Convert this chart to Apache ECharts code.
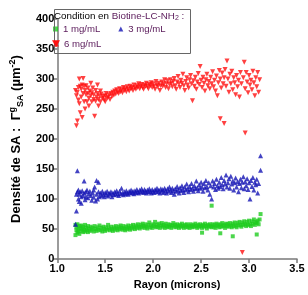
<!DOCTYPE html>
<html>
<head>
<meta charset="utf-8">
<script src="https://cdn.jsdelivr.net/npm/echarts@6/dist/echarts.min.js"></script>
<style>
html, body { margin: 0; padding: 0; background: #fff; }
#chart { width: 308px; height: 295px; }
</style>
</head>
<body>
<div id="chart"></div>
<script>
// valeurs (Rayon en microns, densité en µm-2)
var xTicks = [1.0, 1.5, 2.0, 2.5, 3.0, 3.5];
var yTicks = [0, 50, 100, 150, 200, 250, 300, 350, 400];
var seriesNames = ['1 mg/mL', '3 mg/mL', '6 mg/mL'];

var data1 = [[1.19,40],[1.19,57],[1.20,48],[1.20,53],[1.21,44],[1.21,58],[1.22,50],[1.22,46],[1.23,55],[1.23,42],[1.24,52],[1.25,47],[1.25,56],[1.26,50],[1.27,45],[1.27,54],[1.28,49],[1.29,57],[1.29,46],[1.30,52],[1.31,48],[1.32,55],[1.32,45],[1.33,51],[1.34,47],[1.35,54],[1.36,49],[1.37,52],[1.38,46],[1.39,55],[1.40,50],[1.41,47],[1.42,53],[1.43,49],[1.44,56],[1.45,48],[1.46,52],[1.47,46],[1.48,54],[1.49,50],[1.50,47],[1.51,53],[1.52,49],[1.53,57],[1.54,51],[1.55,48],[1.56,54],[1.57,50],[1.58,47],[1.59,53],[1.60,49],[1.61,55],[1.62,51],[1.63,48],[1.64,54],[1.65,50],[1.66,56],[1.67,52],[1.68,49],[1.69,55],[1.70,51],[1.71,48],[1.72,54],[1.73,50],[1.74,56],[1.75,52],[1.76,49],[1.77,55],[1.78,51],[1.79,57],[1.80,53],[1.81,50],[1.82,56],[1.83,52],[1.84,58],[1.85,54],[1.86,51],[1.87,57],[1.88,53],[1.89,59],[1.90,55],[1.91,52],[1.92,58],[1.93,54],[1.94,51],[1.95,57],[1.96,61],[1.97,53],[1.98,56],[1.99,52],[2.00,58],[2.01,55],[2.02,62],[2.03,53],[2.04,57],[2.05,54],[2.06,59],[2.07,52],[2.08,56],[2.09,60],[2.10,54],[2.11,57],[2.12,52],[2.13,59],[2.14,55],[2.15,53],[2.16,58],[2.17,54],[2.18,57],[2.19,52],[2.20,56],[2.21,60],[2.22,54],[2.23,57],[2.24,53],[2.25,58],[2.26,55],[2.27,52],[2.28,57],[2.29,54],[2.30,59],[2.31,55],[2.32,52],[2.33,57],[2.34,54],[2.35,58],[2.36,53],[2.37,56],[2.38,52],[2.39,58],[2.40,55],[2.41,53],[2.42,57],[2.43,54],[2.44,59],[2.45,55],[2.46,52],[2.47,57],[2.48,54],[2.49,58],[2.50,55],[2.51,44],[2.51,52],[2.52,57],[2.53,54],[2.54,59],[2.55,55],[2.56,51],[2.57,57],[2.58,54],[2.59,58],[2.60,55],[2.61,89],[2.61,53],[2.62,58],[2.63,54],[2.64,57],[2.65,52],[2.66,59],[2.67,55],[2.68,57],[2.69,53],[2.70,43],[2.70,58],[2.71,54],[2.72,60],[2.73,55],[2.74,57],[2.75,52],[2.76,59],[2.77,55],[2.78,58],[2.79,54],[2.80,60],[2.81,56],[2.82,53],[2.83,38],[2.83,59],[2.84,55],[2.85,61],[2.86,56],[2.87,53],[2.88,60],[2.89,56],[2.90,62],[2.91,57],[2.92,54],[2.93,61],[2.94,57],[2.95,63],[2.96,58],[2.97,55],[2.98,62],[2.99,57],[3.00,64],[3.01,58],[3.02,55],[3.03,63],[3.04,59],[3.05,66],[3.06,57],[3.07,62],[3.08,41],[3.08,60],[3.09,64],[3.10,58],[3.11,66],[3.12,75]];

var data3 = [[1.19,58],[1.20,80],[1.20,108],[1.21,147],[1.21,112],[1.22,100],[1.22,115],[1.23,96],[1.23,108],[1.24,112],[1.25,104],[1.25,93],[1.26,114],[1.27,106],[1.28,130],[1.28,110],[1.29,99],[1.30,112],[1.30,104],[1.31,115],[1.32,102],[1.33,109],[1.34,113],[1.35,106],[1.36,98],[1.37,110],[1.38,115],[1.38,103],[1.39,120],[1.40,97],[1.41,131],[1.41,108],[1.42,100],[1.43,128],[1.43,112],[1.44,104],[1.45,110],[1.46,106],[1.47,113],[1.48,108],[1.49,104],[1.50,111],[1.51,107],[1.52,113],[1.53,105],[1.54,110],[1.55,108],[1.56,112],[1.57,104],[1.58,110],[1.59,107],[1.60,112],[1.61,108],[1.62,114],[1.63,109],[1.64,106],[1.65,113],[1.66,109],[1.67,118],[1.68,110],[1.69,107],[1.70,112],[1.71,109],[1.72,114],[1.73,110],[1.74,108],[1.75,113],[1.76,111],[1.77,115],[1.78,110],[1.79,113],[1.80,109],[1.81,114],[1.82,111],[1.83,116],[1.84,112],[1.85,110],[1.86,115],[1.87,112],[1.88,117],[1.89,113],[1.90,111],[1.91,116],[1.92,113],[1.93,110],[1.94,115],[1.95,112],[1.96,117],[1.97,113],[1.98,110],[1.99,116],[2.00,113],[2.01,111],[2.02,116],[2.03,113],[2.04,118],[2.05,112],[2.06,115],[2.07,110],[2.08,117],[2.09,113],[2.10,116],[2.11,111],[2.12,118],[2.13,114],[2.14,110],[2.15,117],[2.16,113],[2.17,120],[2.18,115],[2.19,111],[2.20,118],[2.21,114],[2.22,108],[2.23,117],[2.24,113],[2.25,121],[2.26,115],[2.27,110],[2.28,119],[2.29,114],[2.30,122],[2.31,116],[2.32,111],[2.33,120],[2.34,115],[2.35,125],[2.36,117],[2.37,112],[2.38,121],[2.39,116],[2.40,126],[2.41,118],[2.42,113],[2.43,122],[2.44,117],[2.45,130],[2.46,119],[2.47,114],[2.48,124],[2.49,118],[2.50,128],[2.51,120],[2.52,113],[2.53,126],[2.54,119],[2.55,131],[2.56,121],[2.57,115],[2.58,127],[2.59,108],[2.60,122],[2.61,100],[2.62,130],[2.63,120],[2.64,126],[2.65,116],[2.66,133],[2.67,122],[2.68,118],[2.69,128],[2.70,121],[2.71,136],[2.72,124],[2.73,117],[2.74,131],[2.75,125],[2.76,140],[2.77,120],[2.78,127],[2.79,134],[2.80,118],[2.81,138],[2.82,125],[2.83,130],[2.84,115],[2.85,127],[2.86,135],[2.87,120],[2.88,129],[2.89,112],[2.90,126],[2.91,133],[2.92,119],[2.93,128],[2.94,137],[2.95,117],[2.96,129],[2.97,122],[2.98,134],[2.99,116],[3.00,127],[3.01,100],[3.02,131],[3.03,121],[3.04,136],[3.05,115],[3.06,128],[3.07,124],[3.08,133],[3.09,110],[3.10,126],[3.12,148],[3.12,172]];

var data6 = [[1.19,281],[1.20,272],[1.20,222],[1.21,230],[1.21,278],[1.22,286],[1.22,265],[1.23,300],[1.23,259],[1.24,288],[1.24,244],[1.25,270],[1.25,283],[1.26,236],[1.26,290],[1.27,301],[1.27,276],[1.28,262],[1.28,288],[1.29,250],[1.29,281],[1.30,274],[1.30,289],[1.31,262],[1.32,276],[1.32,285],[1.33,255],[1.33,268],[1.34,280],[1.35,293],[1.35,272],[1.36,262],[1.36,277],[1.37,285],[1.38,266],[1.38,274],[1.39,238],[1.40,281],[1.40,263],[1.41,270],[1.42,290],[1.42,276],[1.43,266],[1.43,255],[1.44,272],[1.45,262],[1.45,280],[1.46,275],[1.47,268],[1.48,271],[1.49,265],[1.50,272],[1.50,262],[1.51,276],[1.52,268],[1.53,270],[1.54,274],[1.55,266],[1.56,276],[1.57,271],[1.58,278],[1.59,273],[1.60,280],[1.61,275],[1.62,282],[1.63,278],[1.64,276],[1.65,284],[1.66,279],[1.67,282],[1.68,277],[1.69,286],[1.70,281],[1.71,284],[1.72,279],[1.73,287],[1.74,283],[1.75,280],[1.76,288],[1.77,284],[1.78,286],[1.79,281],[1.80,290],[1.81,285],[1.82,283],[1.83,289],[1.84,286],[1.85,292],[1.86,284],[1.87,288],[1.88,291],[1.89,286],[1.90,283],[1.91,290],[1.92,288],[1.93,293],[1.94,287],[1.95,284],[1.96,291],[1.97,289],[1.98,294],[1.99,286],[2.00,292],[2.01,288],[2.02,283],[2.03,296],[2.04,290],[2.05,287],[2.06,293],[2.07,281],[2.08,289],[2.09,295],[2.10,288],[2.11,292],[2.12,299],[2.13,286],[2.14,292],[2.15,297],[2.16,284],[2.17,291],[2.18,299],[2.19,293],[2.20,287],[2.21,296],[2.22,301],[2.23,289],[2.24,283],[2.25,295],[2.26,304],[2.27,292],[2.28,286],[2.29,298],[2.30,293],[2.31,308],[2.32,289],[2.33,281],[2.34,296],[2.35,302],[2.36,290],[2.37,285],[2.38,299],[2.39,306],[2.40,292],[2.41,264],[2.42,297],[2.43,288],[2.44,303],[2.45,283],[2.46,295],[2.47,309],[2.48,291],[2.49,321],[2.50,298],[2.51,286],[2.52,303],[2.53,293],[2.54,280],[2.55,299],[2.56,308],[2.57,289],[2.58,296],[2.59,284],[2.60,303],[2.61,292],[2.62,312],[2.63,287],[2.64,298],[2.65,280],[2.66,305],[2.67,272],[2.68,294],[2.69,314],[2.70,234],[2.70,300],[2.71,285],[2.72,310],[2.73,292],[2.74,226],[2.74,302],[2.75,316],[2.76,288],[2.77,330],[2.78,300],[2.79,278],[2.80,308],[2.81,292],[2.82,313],[2.83,282],[2.84,302],[2.85,294],[2.86,274],[2.87,306],[2.88,287],[2.89,298],[2.90,270],[2.91,311],[2.92,292],[2.93,11],[2.94,302],[2.95,328],[2.96,210],[2.96,284],[2.97,311],[2.98,295],[2.99,277],[3.00,306],[3.01,290],[3.02,298],[3.03,282],[3.04,313],[3.05,294],[3.06,272],[3.07,302],[3.08,287],[3.09,311],[3.10,278],[3.11,299]];

var chart = echarts.init(document.getElementById('chart'));

var axisFont = "'Liberation Sans', Arial, sans-serif";
var axisCol = '#7a7a7a';
var legendCol = '#5a1a5a';
var redCol = '#ff1010';

var legendText = { fontFamily: axisFont, fontSize: 9.6, color: legendCol };

var option = {
    animation: false,
    grid: { left: 44, right: 11, top: 19, bottom: 32 },
    legend: [
        {
            data: seriesNames.slice(0, 2),
            left: 48, top: 19,
            itemWidth: 5, itemHeight: 5, itemGap: 18,
            textStyle: legendText
        },
        {
            data: [{ name: seriesNames[2], icon: 'triangle' }],
            left: 48, top: 34,
            itemWidth: 6, itemHeight: 5,
            symbolRotate: 180,
            itemStyle: { color: redCol },
            textStyle: legendText
        }
    ],
    graphic: {
        elements: [
            {
                type: 'rect', left: 52, top: 7, z: 50,
                shape: { width: 136, height: 44 },
                style: { fill: 'none', stroke: '#666', lineWidth: 1 }
            },
            {
                // marqueur 6 mg/mL de la légende, tracé à la main
                type: 'polygon', z: 100,
                shape: { points: [[52.5, 40.5], [59.5, 40.5], [56, 47]] },
                style: { fill: redCol, stroke: redCol, lineWidth: 0.5 }
            },
            {
                type: 'text', left: 54, top: 11, z: 50,
                style: {
                    text: '{a|Condition en }{b|Biotine-LC-NH}{s|2}{b| :}',
                    rich: {
                        a: { fontFamily: axisFont, fontSize: 9.8, fill: '#000' },
                        b: { fontFamily: axisFont, fontSize: 9.8, fill: legendCol },
                        s: { fontFamily: axisFont, fontSize: 7, fill: legendCol, verticalAlign: 'bottom', padding: [4, 0, 0, 0] }
                    }
                }
            }
        ]
    },
    xAxis: {
        type: 'value', min: 1.0, max: 3.5, interval: 0.5,
        name: 'Rayon (microns)', nameLocation: 'middle', nameGap: 19,
        nameTextStyle: { fontFamily: axisFont, fontSize: 11, fontWeight: 'bold', color: '#000' },
        splitLine: { show: false },
        axisLine: { lineStyle: { color: axisCol, width: 1.5 } },
        axisTick: { length: 4, lineStyle: { color: axisCol, width: 1.5 } },
        axisLabel: {
            fontFamily: axisFont, fontSize: 11, fontWeight: 'bold', color: '#000', margin: 4,
            formatter: function (v) { return v.toFixed(1); }
        }
    },
    yAxis: {
        type: 'value', min: 0, max: 400, interval: 50,
        name: '{m|Densité de SA :  Γ}{p|g}{s|SA}{m| (µm}{p|-2}{m|)}',
        nameLocation: 'middle', nameGap: 22, nameRotate: 90,
        nameTextStyle: {
            rich: {
                m: { fontFamily: axisFont, fontSize: 13, fontWeight: 'bold', color: '#000', lineHeight: 17 },
                p: { fontFamily: axisFont, fontSize: 9, fontWeight: 'bold', color: '#000', verticalAlign: 'top', lineHeight: 17, padding: [0, 0, 6, 0] },
                s: { fontFamily: axisFont, fontSize: 9, fontWeight: 'bold', color: '#000', verticalAlign: 'bottom', lineHeight: 17, padding: [6, 0, 0, 0] }
            }
        },
        splitLine: { show: false },
        axisLine: { show: true, lineStyle: { color: axisCol, width: 1.5 } },
        axisTick: { show: true, length: 4, lineStyle: { color: axisCol, width: 1.5 } },
        axisLabel: { fontFamily: axisFont, fontSize: 11, fontWeight: 'bold', color: '#000', margin: 3 }
    },
    series: [
        {
            name: seriesNames[0], type: 'scatter', data: data1,
            symbol: 'rect', symbolSize: 4,
            itemStyle: { color: '#1fcc1f' }
        },
        {
            name: seriesNames[1], type: 'scatter', data: data3,
            symbol: 'triangle', symbolSize: 5,
            itemStyle: { color: '#1414b4' }
        },
        {
            name: seriesNames[2], type: 'scatter', data: data6,
            symbol: 'triangle', symbolSize: 5, symbolRotate: 180,
            itemStyle: { color: redCol }
        }
    ]
};

chart.setOption(option);
</script>
</body>
</html>
